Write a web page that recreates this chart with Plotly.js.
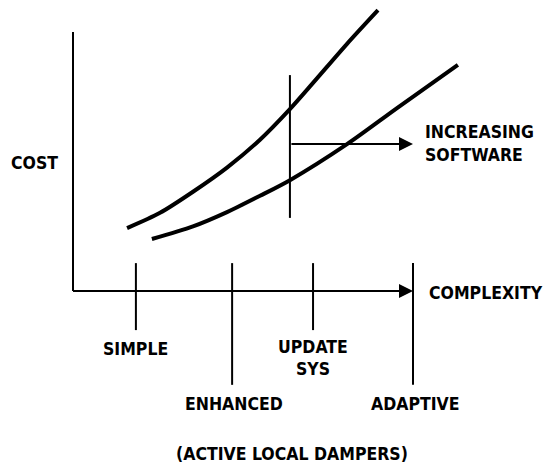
<!DOCTYPE html>
<html>
<head>
<meta charset="utf-8">
<script src="https://cdn.plot.ly/plotly-3.0.1.min.js"></script>
<style>
  html, body { margin: 0; padding: 0; background: #fff; }
  #chart { width: 550px; height: 466px; }
</style>
</head>
<body>
<div id="chart"></div>
<script>
// complexity (x) vs cost (y), arbitrary units
var higherCostX = [1.59, 2.56, 3.53, 4.53, 5.50, 6.38, 7.06, 8.06, 8.97];
var higherCostY = [1.85, 2.30, 2.92, 3.63, 4.45, 5.35, 6.12, 7.27, 8.26];

var lowerCostX = [2.32, 3.53, 4.53, 5.50, 6.38, 8.06, 9.53, 11.32];
var lowerCostY = [1.53, 1.90, 2.32, 2.80, 3.26, 4.32, 5.38, 6.65];

var stageNames = ['SIMPLE', 'ENHANCED', 'UPDATE<br>SYS', 'ADAPTIVE'];
var stageX = [1.85, 4.68, 7.06, 10.0];

var softwareX = 6.38;          // "increasing software" marker
var softwareSpan = [2.15, 6.35];
var softwareArrowY = 4.32;

var axisTopY = 7.62;
var axisEndX = 10.0;

// pixel scale of the drawing: 34 px per unit, origin at (73, 291)
var unit = 34, originPx = 73, originPy = 291, W = 550, H = 466;

var font = { family: 'DejaVu Sans Condensed, Liberation Sans Narrow, sans-serif', size: 17.5, color: '#000' };

var traces = [
  { x: higherCostX, y: higherCostY, type: 'scatter', mode: 'lines',
    line: { shape: 'spline', smoothing: 0.8, color: '#000', width: 4 }, hoverinfo: 'skip' },
  { x: lowerCostX, y: lowerCostY, type: 'scatter', mode: 'lines',
    line: { shape: 'spline', smoothing: 0.8, color: '#000', width: 4 }, hoverinfo: 'skip' }
];

var axisLine = { color: '#000', width: 2 };
var shapes = [
  { type: 'line', x0: 0, x1: 0, y0: 0, y1: axisTopY, line: axisLine },
  { type: 'line', x0: 0, x1: axisEndX - 0.25, y0: 0, y1: 0, line: axisLine },
  { type: 'line', x0: softwareX, x1: softwareX, y0: softwareSpan[0], y1: softwareSpan[1], line: axisLine }
];

var annotations = [];
function px(x) { return x / W; }
function py(y) { return 1 - y / H; }
function label(text, x, y, anchor) {
  annotations.push({ text: '<b>' + text + '</b>', xref: 'paper', yref: 'paper',
    x: px(x), y: py(y), xanchor: anchor || 'center', yanchor: 'middle',
    showarrow: false, font: font, align: anchor === 'left' ? 'left' : 'center' });
}

stageX.forEach(function (sx, i) {
  var low = i % 2 === 1;
  shapes.push({ type: 'line', x0: sx, x1: sx, y0: 0.82, y1: low ? -2.76 : -1.15, line: axisLine });
  var lx = originPx + sx * unit + (low ? 2 : 0);
  if (stageNames[i].indexOf('<br>') > 0) {
    var parts = stageNames[i].split('<br>');
    label(parts[0], lx, 347);
    label(parts[1], lx, 369);
  } else {
    label(stageNames[i], lx, low ? 404 : 349);
  }
});

// arrows
annotations.push({ x: axisEndX, y: 0, ax: axisEndX - 0.4, ay: 0, xref: 'x', yref: 'y', axref: 'x', ayref: 'y',
  text: '', showarrow: true, arrowhead: 2, arrowsize: 1.4, arrowwidth: 2, arrowcolor: '#000' });
annotations.push({ x: axisEndX, y: softwareArrowY, ax: softwareX, ay: softwareArrowY, xref: 'x', yref: 'y', axref: 'x', ayref: 'y',
  text: '', showarrow: true, arrowhead: 2, arrowsize: 1.4, arrowwidth: 2, arrowcolor: '#000' });

label('COST', 35, 163);
label('COMPLEXITY', 427, 293, 'left');
label('INCREASING', 423, 132, 'left');
label('SOFTWARE', 423, 155, 'left');
label('(ACTIVE LOCAL DAMPERS)', 292, 454);

var layout = {
  width: W, height: H,
  margin: { l: 0, r: 0, t: 0, b: 0 },
  paper_bgcolor: '#fff', plot_bgcolor: '#fff',
  showlegend: false,
  xaxis: { range: [-originPx / unit, (W - originPx) / unit], visible: false, fixedrange: true },
  yaxis: { range: [(originPy - H) / unit, originPy / unit], visible: false, fixedrange: true },
  shapes: shapes,
  annotations: annotations
};

Plotly.newPlot('chart', traces, layout, { staticPlot: true });
</script>
</body>
</html>
